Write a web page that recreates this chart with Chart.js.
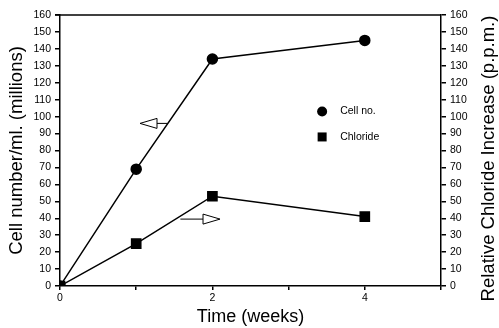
<!DOCTYPE html>
<html>
<head>
<meta charset="utf-8">
<script src="https://cdn.jsdelivr.net/npm/chart.js@4"></script>
<style>
  html, body { margin: 0; padding: 0; background: #fff; }
  #wrap { width: 499px; height: 328px; }
</style>
</head>
<body>
<div id="wrap"><canvas id="c" width="499" height="328"></canvas></div>
<script>
// weeks
const weeks = [0, 1, 2, 4];
// cell number / ml (millions)
const cellNo = [0, 69, 134, 145];
// relative chloride increase (p.p.m.)
const chloride = [0, 25, 53, 41];
const xTickLabels = ['0', '', '2', '', '4', ''];
// arrows showing which axis each curve belongs to: [x from, x to, y]
const arrowLeft = [1.41, 1.05, 96];
const arrowRight = [1.58, 2.10, 39.5];
const rightTitle = 'Relative Chloride Increase (p.p.m.)';

const FONT = 'Liberation Sans, Arial, Helvetica, sans-serif';

const toPts = ys => weeks.map((w, i) => ({ x: w, y: ys[i] }));

function drawArrow(ctx, x1, x2, y) {
    const dir = Math.sign(x2 - x1);
    const headLen = 17, headH = 5;
    const baseX = x2 - dir * headLen;
    ctx.beginPath();
    ctx.moveTo(x1, y);
    ctx.lineTo(baseX, y);
    ctx.stroke();
    ctx.beginPath();
    ctx.moveTo(x2, y);
    ctx.lineTo(baseX, y - headH);
    ctx.lineTo(baseX, y + headH);
    ctx.closePath();
    ctx.fillStyle = '#fff';
    ctx.fill();
    ctx.stroke();
}

const extras = {
    id: 'extras',
    afterDraw(chart) {
        const { ctx, chartArea: a, scales } = chart;
        const xs = scales.x, ys = scales.y;
        ctx.save();
        ctx.strokeStyle = '#000';
        ctx.lineWidth = 1.5;
        // top border
        ctx.beginPath();
        ctx.moveTo(a.left - 5, a.top);
        ctx.lineTo(a.right, a.top);
        ctx.stroke();
        ctx.lineWidth = 1;
        drawArrow(ctx, xs.getPixelForValue(arrowLeft[0]), xs.getPixelForValue(arrowLeft[1]), ys.getPixelForValue(arrowLeft[2]));
        drawArrow(ctx, xs.getPixelForValue(arrowRight[0]), xs.getPixelForValue(arrowRight[1]), ys.getPixelForValue(arrowRight[2]));
        // legend
        const lx = xs.getPixelForValue(3.44);
        const ly1 = ys.getPixelForValue(103), ly2 = ys.getPixelForValue(88);
        ctx.fillStyle = '#000';
        ctx.beginPath();
        ctx.arc(lx, ly1, 5, 0, Math.PI * 2);
        ctx.fill();
        ctx.fillRect(lx - 4.5, ly2 - 4.5, 9, 9);
        ctx.font = '10.5px ' + FONT;
        ctx.textBaseline = 'middle';
        ctx.fillText('Cell no.', lx + 18, ly1);
        ctx.fillText('Chloride', lx + 18, ly2);
        // right axis title, reading bottom to top
        ctx.translate(chart.width - 10, (a.top + a.bottom) / 2 + 8);
        ctx.rotate(-Math.PI / 2);
        ctx.textAlign = 'center';
        ctx.font = '18.5px ' + FONT;
        ctx.fillText(rightTitle, 0, 0);
        ctx.restore();
    }
};

const yTicks = { color: '#000', font: { family: FONT, size: 10.5 }, stepSize: 10, padding: 4 };

new Chart(document.getElementById('c'), {
    type: 'scatter',
    data: {
        datasets: [
            {
                label: 'Cell no.', data: toPts(cellNo), yAxisID: 'y',
                showLine: true, borderColor: '#000', borderWidth: 1.5,
                pointStyle: 'circle', pointRadius: 5, pointBackgroundColor: '#000', pointBorderColor: '#000'
            },
            {
                label: 'Chloride', data: toPts(chloride), yAxisID: 'y2',
                showLine: true, borderColor: '#000', borderWidth: 1.5,
                pointStyle: 'rect', pointRadius: 6.5, pointBackgroundColor: '#000', pointBorderColor: '#000'
            }
        ]
    },
    options: {
        responsive: false,
        animation: false,
        layout: { padding: { top: 15, left: 0, right: 0, bottom: 0 } },
        plugins: { legend: { display: false }, tooltip: { enabled: false } },
        scales: {
            x: {
                type: 'linear', min: 0, max: 5,
                ticks: {
                    stepSize: 1, color: '#000', font: { family: FONT, size: 10.5 }, padding: 2,
                    autoSkip: false, maxRotation: 0,
                    callback: (v, i) => xTickLabels[i]
                },
                grid: { drawOnChartArea: false, drawTicks: true, tickLength: 4, color: '#000', lineWidth: 1.5 },
                border: { color: '#000', width: 1.5 },
                title: { display: true, text: 'Time (weeks)', color: '#000', font: { family: FONT, size: 18 }, padding: { top: 0, bottom: 0 } },
                afterFit: s => { s.height = 42; }
            },
            y: {
                position: 'left', min: 0, max: 160,
                ticks: yTicks,
                grid: { drawOnChartArea: false, tickLength: 5, color: '#000', lineWidth: 1.5 },
                border: { color: '#000', width: 1.5 },
                title: { display: true, text: 'Cell number/ml. (millions)', color: '#000', font: { family: FONT, size: 18.5 }, padding: { top: 6, bottom: 0 } },
                afterFit: s => { s.width = 60; }
            },
            y2: {
                position: 'right', min: 0, max: 160,
                ticks: yTicks,
                grid: { drawOnChartArea: false, tickLength: 5, color: '#000', lineWidth: 1.5 },
                border: { color: '#000', width: 1.5 },
                title: { display: false },
                afterFit: s => { s.width = 58; }
            }
        }
    },
    plugins: [extras]
});
</script>
</body>
</html>
